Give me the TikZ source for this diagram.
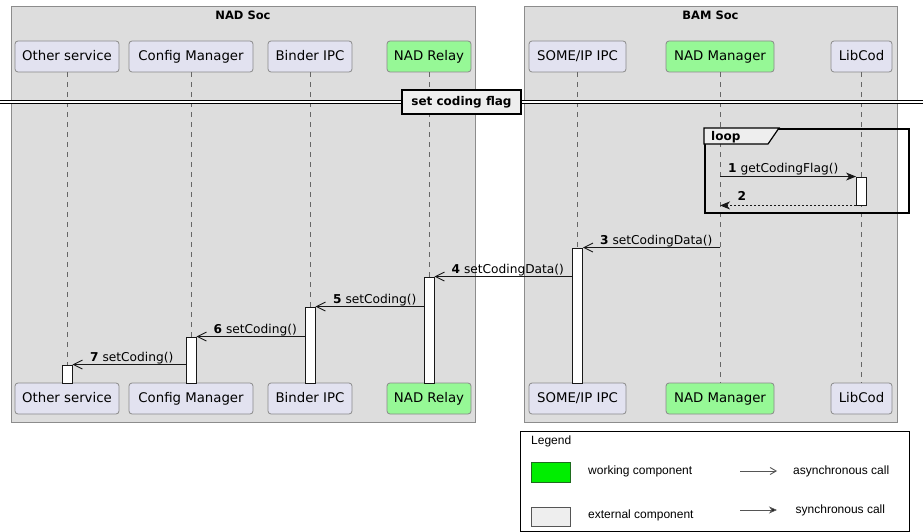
\documentclass[tikz,border=0pt]{standalone}
\usepackage{fontspec}
\setmainfont{DejaVu Sans}
\newfontfamily\legendfont{Liberation Sans}
\usetikzlibrary{arrows.meta}
\definecolor{grpfill}{HTML}{DDDDDD}
\definecolor{grpline}{HTML}{8C8C8C}
\definecolor{partfill}{HTML}{E2E2F0}
\definecolor{partline}{HTML}{8A8A8A}
\definecolor{greenpart}{HTML}{96F896}
\definecolor{msgline}{HTML}{181818}
\definecolor{lifecol}{HTML}{666666}
\definecolor{divfill}{HTML}{EEEEEE}
\definecolor{legendgreen}{HTML}{00EE00}
\definecolor{legendgreenline}{HTML}{1E6B1E}
\definecolor{legendarrow}{HTML}{555555}
\tikzset{
  grp/.style={draw=grpline, fill=grpfill, line width=0.8pt, inner sep=0pt, anchor=north west},
  grptitle/.style={font=\bfseries\fontsize{11.5}{13}\selectfont, inner sep=0pt},
  part/.style={draw=partline, fill=partfill, rounded corners=3pt, line width=0.8pt,
    minimum height=31pt, inner sep=0pt, text height=9.8pt, text depth=2.6pt,
    font=\fontsize{13.3}{15}\selectfont},
  greenp/.style={part, fill=greenpart},
  life/.style={draw=lifecol, line width=0.7pt, dash pattern=on 5pt off 5pt},
  actbar/.style={draw=msgline, fill=white, line width=0.9pt, minimum width=10pt, inner sep=0pt},
  asyncmsg/.style={draw=msgline, line width=0.9pt, -{Straight Barb[length=9pt,width=9pt,line width=0.9pt]}},
  syncmsg/.style={draw=msgline, line width=0.9pt, -{Stealth[length=10pt,width=8pt,inset=3pt]}},
  lbl/.style={font=\fontsize{12.2}{14}\selectfont, inner sep=0pt, anchor=base west},
  divbox/.style={draw=black, fill=divfill, line width=1.6pt, minimum width=119pt, minimum height=24pt,
    inner sep=0pt, font=\bfseries\fontsize{12}{14}\selectfont},
  legtext/.style={font=\legendfont\fontsize{12}{14}\selectfont, inner sep=0pt, anchor=west},
}
\begin{document}
\begin{tikzpicture}[x=1pt,y=-1pt]
\useasboundingbox (0,0) rectangle (923,532);
\fill[white] (0,0) rectangle (923,532);

% groups
\node[grp, minimum width=464pt, minimum height=416pt] (nadsoc) at (11,6) {};
\node[grp, minimum width=373pt, minimum height=416pt] (bamsoc) at (524,6) {};
\node[grptitle] (nadsoct) at (243,15.5) {NAD Soc};
\node[grptitle] (bamsoct) at (710.5,15.5) {BAM Soc};

% participants top
\node[part, minimum width=104pt] (osT) at (67,56.5) {Other service};
\node[part, minimum width=124pt] (cmT) at (191,56.5) {Config Manager};
\node[part, minimum width=84pt] (biT) at (310,56.5) {Binder IPC};
\node[greenp, minimum width=84pt] (nrT) at (429,56.5) {NAD Relay};
\node[part, minimum width=97pt] (soT) at (577.5,56.5) {SOME/IP IPC};
\node[greenp, minimum width=108pt] (nmT) at (720,56.5) {NAD Manager};
\node[part, minimum width=61pt] (lcT) at (861.5,56.5) {LibCod};
% participants bottom
\node[part, minimum width=104pt] (osB) at (67,398.5) {Other service};
\node[part, minimum width=124pt] (cmB) at (191,398.5) {Config Manager};
\node[part, minimum width=84pt] (biB) at (310,398.5) {Binder IPC};
\node[greenp, minimum width=84pt] (nrB) at (429,398.5) {NAD Relay};
\node[part, minimum width=97pt] (soB) at (577.5,398.5) {SOME/IP IPC};
\node[greenp, minimum width=108pt] (nmB) at (720,398.5) {NAD Manager};
\node[part, minimum width=61pt] (lcB) at (861.5,398.5) {LibCod};

% lifelines
\draw[life] (osT) -- (osB);
\draw[life] (cmT) -- (cmB);
\draw[life] (biT) -- (biB);
\draw[life] (nrT) -- (nrB);
\draw[life] (soT) -- (soB);
\draw[life] (nmT) -- (nmB);
\draw[life] (lcT) -- (lcB);

% divider
\coordinate (divL) at (0,102.4);
\coordinate (divR) at (923,102.4);
\draw[double=white, double distance=2.2pt, line width=0.9pt, black] (divL) -- (divR);
\node[divbox] (div) at (461.5,102) {set coding flag};

% loop frame
\node[draw=black, line width=1.6pt, minimum width=204pt, minimum height=84pt, inner sep=0pt, anchor=north west] (loop) at (704,128) {};
\filldraw[fill=divfill, draw=black, line width=1.2pt] (loop.north west) -- ++(75,0) -- ++(-11,16) -- ++(-64,0) -- cycle;
\node[font=\bfseries\fontsize{12}{14}\selectfont, inner sep=0pt, anchor=base west] (looplbl) at (711,140.5) {loop};

% activation bars
\node[actbar, minimum height=28pt] (barLc) at (861.5,191) {};
\node[actbar, minimum height=135pt] (barSo) at (577.5,315.5) {};
\node[actbar, minimum height=106pt] (barNr) at (429,330) {};
\node[actbar, minimum height=76pt] (barBi) at (310,345) {};
\node[actbar, minimum height=46pt] (barCm) at (191,360) {};
\node[actbar, minimum height=18pt] (barOs) at (67,374) {};

% messages
\draw[syncmsg] (nmT |- barLc.north) -- (barLc.north west);
\node[lbl] (m1) at (728,172) {\textbf{1} getCodingFlag()};
\draw[syncmsg, dash pattern=on 2pt off 2pt] (barLc.south west) -- (nmT |- barLc.south);
\node[lbl] (m2) at (737.5,200.5) {\textbf{2}};
\draw[asyncmsg] (nmT |- barSo.north) -- (barSo.north east);
\node[lbl] (m3) at (600,244) {\textbf{3} setCodingData()};
\draw[asyncmsg] (barSo.west |- barNr.north) -- (barNr.north east);
\node[lbl] (m4) at (451.5,273) {\textbf{4} setCodingData()};
\draw[asyncmsg] (barNr.west |- barBi.north) -- (barBi.north east);
\node[lbl] (m5) at (333,303) {\textbf{5} setCoding()};
\draw[asyncmsg] (barBi.west |- barCm.north) -- (barCm.north east);
\node[lbl] (m6) at (213.5,333) {\textbf{6} setCoding()};
\draw[asyncmsg] (barCm.west |- barOs.north) -- (barOs.north east);
\node[lbl] (m7) at (90,361) {\textbf{7} setCoding()};

% legend
\node[draw=black, fill=white, line width=0.8pt, minimum width=389pt, minimum height=100.5pt, inner sep=0pt, anchor=north west] (legend) at (520,430.5) {};
\node[legtext] (legt) at (531,441) {Legend};
\node[draw=legendgreenline, fill=legendgreen, line width=0.8pt, minimum width=39pt, minimum height=20pt, inner sep=0pt] (lgGreen) at (550.5,472) {};
\node[draw=legendarrow, fill=divfill, line width=0.8pt, minimum width=39pt, minimum height=19pt, inner sep=0pt] (lgGray) at (550.5,516.5) {};
\node[legtext] (lgWork) at (588,471) {working component};
\node[legtext] (lgExt) at (588,515.5) {external component};
\coordinate (la1s) at (740,471);
\coordinate (la1e) at (777,471);
\coordinate (la2s) at (740,510);
\coordinate (la2e) at (777,510);
\draw[draw=legendarrow, line width=0.9pt, -{Straight Barb[length=6pt,width=7pt,line width=0.9pt]}] (la1s) -- (la1e);
\draw[draw=legendarrow, line width=0.9pt, -{Stealth[length=8pt,width=7pt,inset=2.5pt,fill=black]}] (la2s) -- (la2e);
\node[legtext] (lgAsync) at (793,471) {asynchronous call};
\node[legtext] (lgSync) at (795.5,510.5) {synchronous call};
\end{tikzpicture}
\end{document}
